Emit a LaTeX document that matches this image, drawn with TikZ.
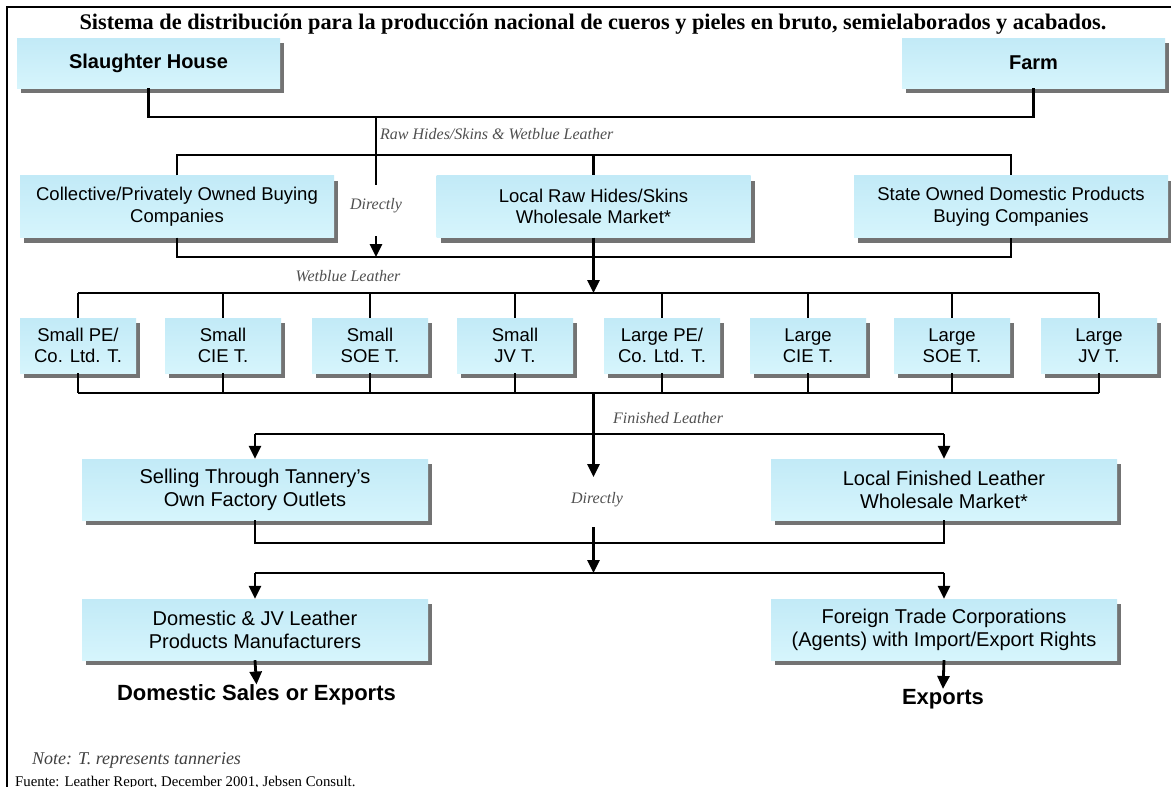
\documentclass[tikz,border=0pt]{standalone}
\usepackage{fontspec}
\setmainfont{Liberation Serif}
\setsansfont{Liberation Sans}
\usetikzlibrary{arrows.meta,shadows}
\definecolor{boxtop}{RGB}{194,234,247}
\definecolor{boxbot}{RGB}{214,245,252}
\definecolor{lblgray}{RGB}{80,80,80}
\tikzset{
  box/.style={shape=rectangle, top color=boxtop, bottom color=boxbot, draw=none,
    font=\sffamily\fontsize{18.5}{21.5}\selectfont, align=center, inner sep=0pt,
    drop shadow={shadow xshift=4pt, shadow yshift=-5pt, fill=black!55, opacity=1}},
  bigbox/.style={box, font=\sffamily\fontsize{20}{23}\selectfont, minimum width=346pt, minimum height=61pt},
  midbox/.style={box, minimum width=314pt, minimum height=62pt},
  tanbox/.style={box, minimum width=116pt, minimum height=55pt},
  topbox/.style={box, font=\sffamily\bfseries\fontsize{20}{24}\selectfont, minimum width=263pt, minimum height=50pt},
  lbl/.style={font=\itshape\fontsize{16}{18}\selectfont, text=lblgray, inner sep=0pt},
  thickln/.style={line width=2.8pt},
  thinln/.style={line width=1.5pt},
  arr/.style={line width=2.8pt, -{Triangle[width=12pt,length=13pt]}},
  outtext/.style={font=\sffamily\bfseries\fontsize{22}{26}\selectfont, inner sep=0pt},
}
\begin{document}
\begin{tikzpicture}[x=1pt,y=-1pt]
\useasboundingbox (0,0) rectangle (1171,787);
\fill[white] (0,0) rectangle (1171,787);
% frame
\draw[line width=1.2pt] (7,787) -- (7,7) -- (1171,7);
% title
\node[font=\bfseries\fontsize{22.3}{26}\selectfont, anchor=base, inner sep=0pt] (title) at (593,29)
  {Sistema de distribución para la producción nacional de cueros y pieles en bruto, semielaborados y acabados.};

% top boxes
\node[topbox] (sh) at (148.5,63) {Slaughter House};
\node[topbox] (farm) at (1033.5,63) {Farm};

% second row
\node[midbox] (coll) at (177,206.5) {Collective/Privately Owned Buying\\Companies};
\node[midbox] (lraw) at (593.5,206.5) {Local Raw Hides/Skins\\Wholesale Market*};
\node[midbox] (state) at (1011,206.5) {State Owned Domestic Products\\Buying Companies};

% tanneries
\node[tanbox] (t1) at (78,345.5) {Small PE/\\Co. Ltd. T.};
\node[tanbox] (t2) at (223,345.5) {Small\\CIE T.};
\node[tanbox] (t3) at (370,345.5) {Small\\SOE T.};
\node[tanbox] (t4) at (515,345.5) {Small\\JV T.};
\node[tanbox] (t5) at (662,345.5) {Large PE/\\Co. Ltd. T.};
\node[tanbox] (t6) at (808,345.5) {Large\\CIE T.};
\node[tanbox] (t7) at (952,345.5) {Large\\SOE T.};
\node[tanbox] (t8) at (1099,345.5) {Large\\JV T.};

% lower boxes
\node[bigbox] (sell) at (255,489.5) {Selling Through Tannery's\\Own Factory Outlets};
\node[bigbox] (lfin) at (944,489.5) {Local Finished Leather\\Wholesale Market*};
\node[bigbox] (dom) at (255,629.5) {Domestic \& JV Leather\\Products Manufacturers};
\node[bigbox] (fore) at (944,629.5) {Foreign Trade Corporations\\(Agents) with Import/Export Rights};

% labels
\node[lbl, anchor=west] (rawlbl) at (380,134) {Raw Hides/Skins \& Wetblue Leather};
\node[lbl] (dir1) at (376,206) {Directly};
\node[lbl] (wetlbl) at (348,276) {Wetblue Leather};
\node[lbl, anchor=west] (finlbl) at (613,418) {Finished Leather};
\node[lbl] (dir2) at (597,500) {Directly};

% junction coordinates
\coordinate (j1) at (376,117);
\coordinate (b2) at (376,155);
\coordinate (d1a) at (376,185);
\coordinate (d1b) at (376,236);
\coordinate (m1) at (376,257);
\coordinate (tb) at (593.5,293);
\coordinate (bb) at (593.5,393);
\coordinate (fl) at (593.5,434);
\coordinate (d2a) at (593.5,477);
\coordinate (d2b) at (593.5,527);
\coordinate (m2) at (593.5,543);
\coordinate (b3) at (593.5,573);

% level 1
\draw[thickln] (sh.south) -- (sh.south |- j1) -- (farm.south |- j1) -- (farm.south);
\draw[thickln] (j1) -- (b2);
\draw[thinln] (b2) -- (d1a);
\draw[arr] (d1b) -- (m1);
% bus 2
\draw[thickln] (coll.north) -- (coll.north |- b2) -- (state.north |- b2) -- (state.north);
\draw[thickln] (lraw.north |- b2) -- (lraw.north);
% merge 1
\draw[thickln] (coll.south) -- (coll.south |- m1) -- (state.south |- m1) -- (state.south);
\draw[arr] (lraw.south) -- (tb);

% tanneries top bus
\draw[thickln] (t1.north |- tb) -- (t8.north |- tb);
\foreach \t in {t1,t3,t5,t6,t7,t8} \draw[thickln] (\t.north |- tb) -- (\t.north);
\foreach \t in {t2,t4} \draw[thinln] (\t.north |- tb) -- (\t.north);
% tanneries bottom bus
\draw[line width=2pt] (t1.south |- bb) -- (t3.south |- bb);
\draw[thickln] (t3.south |- bb) -- (t8.south |- bb);
\foreach \t in {t1,t3,t5,t6,t7,t8} \draw[thickln] (\t.south) -- (\t.south |- bb);
\foreach \t in {t2,t4} \draw[thinln] (\t.south) -- (\t.south |- bb);

% finished leather
\draw[arr] (bb) -- (d2a);
\draw[line width=2pt] (sell.north |- fl) -- (lfin.north |- fl);
\draw[arr] (sell.north |- fl) -- (sell.north);
\draw[arr] (lfin.north |- fl) -- (lfin.north);
\draw[arr] (d2b) -- (b3);
% merge 2
\draw[thickln] (sell.south) -- (sell.south |- m2) -- (lfin.south |- m2) -- (lfin.south);
% bus 3
\draw[thickln] (dom.north |- b3) -- (fore.north |- b3);
\draw[arr] (dom.north |- b3) -- (dom.north);
\draw[arr] (fore.north |- b3) -- (fore.north);

% outputs
\node[outtext] (dsale) at (256.5,695) {Domestic Sales or Exports};
\node[outtext] (exp) at (943,699) {Exports};
\draw[arr] (dom.south) -- (dsale.north);
\draw[arr] (fore.south) -- (exp.north);

% notes
\node[font=\itshape\fontsize{18}{20}\selectfont, text=black!75, anchor=west, inner sep=0pt] (note) at (32,760) {Note: T. represents tanneries};
\node[font=\fontsize{14.8}{17}\selectfont, anchor=base west, inner sep=0pt] (src) at (15,786) {Fuente: Leather Report, December 2001, Jebsen Consult.};
\end{tikzpicture}
\end{document}
